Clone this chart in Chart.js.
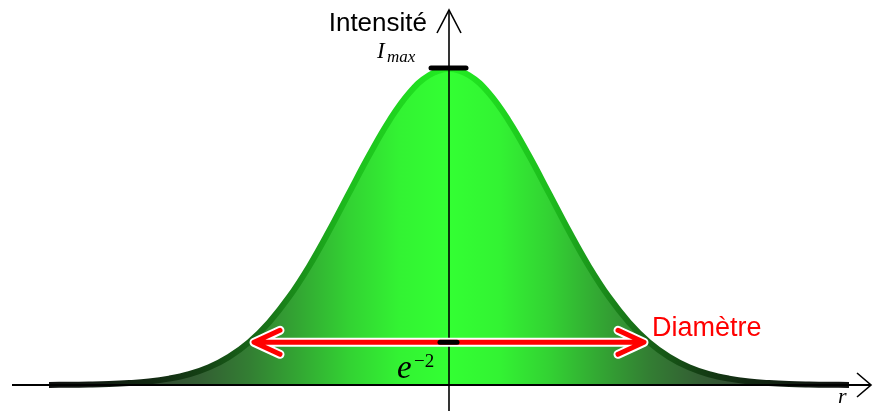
<!DOCTYPE html>
<html>
<head>
<meta charset="utf-8">
<script src="https://cdn.jsdelivr.net/npm/chart.js@4/dist/chart.umd.min.js"></script>
<style>
  html, body { margin: 0; padding: 0; background: #fff; }
  #wrap { width: 873px; height: 411px; position: relative; }
</style>
</head>
<body>
<div id="wrap"><canvas id="beam"></canvas></div>
<script>
// radius, in units of the beam radius w
const radius = [-2.0, -1.9, -1.8, -1.7, -1.6, -1.5, -1.4, -1.3, -1.2, -1.1, -1.0,
  -0.9, -0.8, -0.7, -0.6, -0.5, -0.4, -0.3, -0.2, -0.1, 0.0,
  0.1, 0.2, 0.3, 0.4, 0.5, 0.6, 0.7, 0.8, 0.9, 1.0,
  1.1, 1.2, 1.3, 1.4, 1.5, 1.6, 1.7, 1.8, 1.9, 2.0];
// relative intensity I / Imax
const intensity = [0.0003, 0.0007, 0.0015, 0.003, 0.006, 0.011, 0.020, 0.034, 0.056, 0.089, 0.135,
  0.198, 0.278, 0.375, 0.487, 0.607, 0.726, 0.835, 0.923, 0.980, 1.0,
  0.980, 0.923, 0.835, 0.726, 0.607, 0.487, 0.375, 0.278, 0.198, 0.135,
  0.089, 0.056, 0.034, 0.020, 0.011, 0.006, 0.003, 0.0015, 0.0007, 0.0003];
const levelE2 = 0.135;      // e^-2
const diameterEnds = [-0.975, 0.975];

// colour stops from r = -2 (0) to r = 2 (1), symmetric
const fillStops = [[0, '#333733'], [0.125, '#334833'], [0.1875, '#335e33'], [0.25, '#337e33'],
  [0.3125, '#33a733'], [0.375, '#33d233'], [0.4375, '#33f333'], [0.5, '#33ff33'],
  [0.5625, '#33f333'], [0.625, '#33d233'], [0.6875, '#33a733'], [0.75, '#337e33'],
  [0.8125, '#335e33'], [0.875, '#334833'], [1, '#333733']];
const lineStops = [[0, '#111'], [0.125, '#122812'], [0.1875, '#143f14'], [0.25, '#176317'],
  [0.3125, '#1a8f1a'], [0.375, '#1dbd1d'], [0.5, '#22ee22'],
  [0.625, '#1dbd1d'], [0.6875, '#1a8f1a'], [0.75, '#176317'],
  [0.8125, '#143f14'], [0.875, '#122812'], [1, '#111']];

function hGradient(ctx, chart, stops) {
  const xs = chart.scales.x;
  if (!chart.chartArea || !xs) return stops[Math.floor(stops.length / 2)][1];
  const a = xs.getPixelForValue(-2), b = xs.getPixelForValue(2);
  if (!isFinite(a) || !isFinite(b)) return stops[Math.floor(stops.length / 2)][1];
  const g = ctx.createLinearGradient(a, 0, b, 0);
  stops.forEach(s => g.addColorStop(s[0], s[1]));
  return g;
}

const overlay = {
  id: 'overlay',
  afterDatasetsDraw(chart) {
    const ctx = chart.ctx;
    const xs = chart.scales.x, ys = chart.scales.y;
    const x0 = xs.getPixelForValue(0), y0 = ys.getPixelForValue(0);
    ctx.save();
    ctx.strokeStyle = '#000';
    ctx.lineCap = 'butt';

    // x axis
    ctx.lineWidth = 2;
    ctx.beginPath();
    ctx.moveTo(12, y0); ctx.lineTo(871, y0);
    ctx.stroke();
    ctx.lineWidth = 1.6;
    ctx.beginPath();
    ctx.moveTo(857, y0 - 12); ctx.lineTo(871, y0); ctx.lineTo(857, y0 + 12);
    ctx.stroke();

    // y axis
    ctx.lineWidth = 1.6;
    ctx.beginPath();
    ctx.moveTo(x0, 411); ctx.lineTo(x0, 11);
    ctx.stroke();
    ctx.beginPath();
    ctx.moveTo(x0 - 12, 33); ctx.lineTo(x0, 10); ctx.lineTo(x0 + 12, 33);
    ctx.stroke();

    // red diameter arrow at e^-2
    const ya = ys.getPixelForValue(levelE2);
    const xl = xs.getPixelForValue(diameterEnds[0]);
    const xr = xs.getPixelForValue(diameterEnds[1]);
    const arrowPath = () => {
      ctx.beginPath();
      ctx.moveTo(xl + 2, ya); ctx.lineTo(xr - 2, ya);
      ctx.moveTo(xl + 26, ya - 12); ctx.lineTo(xl, ya); ctx.lineTo(xl + 26, ya + 12);
      ctx.moveTo(xr - 26, ya - 12); ctx.lineTo(xr, ya); ctx.lineTo(xr - 26, ya + 12);
    };
    ctx.lineCap = 'round';
    ctx.lineJoin = 'round';
    ctx.strokeStyle = '#fff';
    ctx.lineWidth = 9;
    arrowPath(); ctx.stroke();
    ctx.strokeStyle = '#ff0000';
    ctx.lineWidth = 5;
    arrowPath(); ctx.stroke();

    // black markers
    ctx.strokeStyle = '#000';
    ctx.lineWidth = 5;
    ctx.lineCap = 'round';
    ctx.beginPath();
    ctx.moveTo(x0 - 9, ya); ctx.lineTo(x0 + 8, ya);
    ctx.stroke();
    const yt = ys.getPixelForValue(1);
    ctx.beginPath();
    ctx.moveTo(x0 - 18, yt - 1); ctx.lineTo(x0 + 17, yt - 1);
    ctx.stroke();

    // texts
    ctx.fillStyle = '#000';
    ctx.textBaseline = 'alphabetic';
    ctx.textAlign = 'right';
    ctx.font = '26px "Liberation Sans", Arial, sans-serif';
    ctx.fillText('Intensité', x0 - 22, 31);

    ctx.textAlign = 'left';
    ctx.font = 'italic 23px "Liberation Serif", serif';
    ctx.fillText('I', 377, 58);
    ctx.font = 'italic 17px "Liberation Serif", serif';
    ctx.fillText('max', 387, 62);

    ctx.font = 'italic 33px "Liberation Serif", serif';
    ctx.fillText('e', 397, 378);
    ctx.font = '19px "Liberation Serif", serif';
    ctx.fillText('\u22122', 414, 367);

    ctx.font = 'italic 22px "Liberation Serif", serif';
    ctx.fillText('r', 838, 403);

    ctx.fillStyle = '#ff0000';
    ctx.font = '27px "Liberation Sans", Arial, sans-serif';
    ctx.fillText('Diamètre', 652, 336);
    ctx.restore();
  }
};

new Chart(document.getElementById('beam'), {
  type: 'line',
  data: {
    datasets: [{
      data: radius.map((r, i) => ({ x: r, y: intensity[i] })),
      fill: 'origin',
      tension: 0.4,
      pointRadius: 0,
      borderWidth: 6,
      borderColor: ctx => hGradient(ctx.chart.ctx, ctx.chart, lineStops),
      backgroundColor: ctx => hGradient(ctx.chart.ctx, ctx.chart, fillStops)
    }]
  },
  options: {
    responsive: true,
    maintainAspectRatio: false,
    animation: false,
    layout: { padding: 0 },
    plugins: { legend: { display: false }, tooltip: { enabled: false } },
    scales: {
      x: { type: 'linear', min: -2.245, max: 2.12, display: false },
      y: { min: -0.0823, max: 1.218, display: false }
    }
  },
  plugins: [overlay]
});
</script>
</body>
</html>
